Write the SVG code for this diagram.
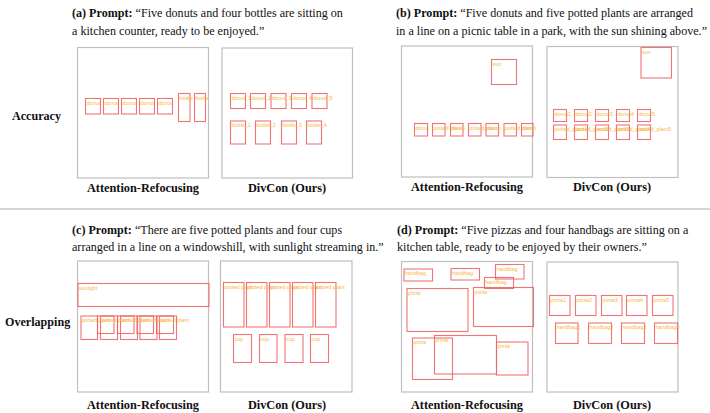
<svg xmlns="http://www.w3.org/2000/svg" width="710" height="413" viewBox="0 0 710 413">
<style>
.frame{fill:#fff;stroke:#bfbfbf;stroke-width:1.2}
.box{fill:none;stroke:#f06464;stroke-width:1.1;stroke-opacity:0.9}
.lbl{font-family:"Liberation Sans",Arial,sans-serif;font-size:5.4px;fill:#f5b845}
.t{font-family:"Liberation Serif","Times New Roman",serif;font-size:12.1px;fill:#111}
.b{font-weight:bold}
.cap{font-family:"Liberation Serif","Times New Roman",serif;font-size:12.3px;font-weight:bold;fill:#111;text-anchor:middle}
</style>
<rect width="710" height="413" fill="#fff"/>

<!-- prompts -->
<g id="prompts">
<text class="t" x="72" y="17"><tspan class="b">(a) Prompt:</tspan> “Five donuts and four bottles are sitting on</text>
<text class="t" x="72" y="34.5">a kitchen counter, ready to be enjoyed.”</text>
<text class="t" x="396" y="17"><tspan class="b">(b) Prompt:</tspan> “Five donuts and five potted plants are arranged</text>
<text class="t" x="396" y="34.5">in a line on a picnic table in a park, with the sun shining above.”</text>
<text class="t" x="72" y="234"><tspan class="b">(c) Prompt:</tspan> “There are five potted plants and four cups</text>
<text class="t" x="72" y="251">arranged in a line on a windowshill, with sunlight streaming in.”</text>
<text class="t" x="397" y="234"><tspan class="b">(d) Prompt:</tspan> “Five pizzas and four handbags are sitting on a</text>
<text class="t" x="397" y="251">kitchen table, ready to be enjoyed by their owners.”</text>
</g>

<g id="row-labels">
<text class="t b" x="12" y="120">Accuracy</text>
<text class="t b" x="5" y="326">Overlapping</text>
</g>

<line id="separator" x1="0" y1="209" x2="710" y2="209" stroke="#aaaaaa" stroke-width="1"/>

<g id="captions">
<text class="cap" x="143" y="192">Attention-Refocusing</text>
<text class="cap" x="287" y="192">DivCon (Ours)</text>
<text class="cap" x="467" y="191">Attention-Refocusing</text>
<text class="cap" x="612" y="191">DivCon (Ours)</text>
<text class="cap" x="143" y="409">Attention-Refocusing</text>
<text class="cap" x="287" y="409">DivCon (Ours)</text>
<text class="cap" x="467" y="409">Attention-Refocusing</text>
<text class="cap" x="612" y="409">DivCon (Ours)</text>
</g>

<!-- (a) Attention-Refocusing -->
<g id="panel-a-ar">
<rect class="frame" x="77.5" y="47.5" width="131" height="130.5"/>
<rect class="box" x="85.5" y="98.5" width="15" height="15.5"/><text class="lbl" x="86.5" y="104.5">donut</text>
<rect class="box" x="103.5" y="98.5" width="15" height="15.5"/><text class="lbl" x="104.5" y="104.5">donut</text>
<rect class="box" x="121.5" y="98.5" width="15" height="15.5"/><text class="lbl" x="122.5" y="104.5">donut</text>
<rect class="box" x="139.5" y="98.5" width="15" height="15.5"/><text class="lbl" x="140.5" y="104.5">donut</text>
<rect class="box" x="157.5" y="98.5" width="15" height="15.5"/><text class="lbl" x="158.5" y="104.5">donut</text>
<rect class="box" x="178.5" y="93.5" width="11.5" height="28"/><text class="lbl" x="179.5" y="99.5">bottle</text>
<rect class="box" x="194.5" y="93.5" width="11" height="28"/><text class="lbl" x="195.5" y="99.5">bottle</text>
</g>

<!-- (a) DivCon -->
<g id="panel-a-dc">
<rect class="frame" x="222" y="48" width="130.5" height="130"/>
<rect class="box" x="230.5" y="93.5" width="15" height="15"/><text class="lbl" x="231.5" y="99.5">donut_1</text>
<rect class="box" x="250.5" y="93.5" width="15" height="15"/><text class="lbl" x="251.5" y="99.5">donut_2</text>
<rect class="box" x="271" y="93.5" width="15" height="15"/><text class="lbl" x="272" y="99.5">donut_3</text>
<rect class="box" x="291.5" y="93.5" width="15" height="15"/><text class="lbl" x="292.5" y="99.5">donut_4</text>
<rect class="box" x="312" y="93.5" width="15" height="15"/><text class="lbl" x="313" y="99.5">donut_5</text>
<rect class="box" x="230.5" y="121" width="15" height="23"/><text class="lbl" x="231.5" y="127">bottle_1</text>
<rect class="box" x="255.5" y="121" width="15" height="23"/><text class="lbl" x="256.5" y="127">bottle_2</text>
<rect class="box" x="281.5" y="121" width="15" height="23"/><text class="lbl" x="282.5" y="127">bottle_3</text>
<rect class="box" x="306.5" y="121" width="15" height="23"/><text class="lbl" x="307.5" y="127">bottle_4</text>
</g>

<!-- (b) Attention-Refocusing -->
<g id="panel-b-ar">
<rect class="frame" x="401.5" y="46" width="131" height="131"/>
<rect class="box" x="491.5" y="59.5" width="25" height="25"/><text class="lbl" x="492.5" y="65.5">sun</text>
<rect class="box" x="414.5" y="123.5" width="13" height="12.5"/><text class="lbl" x="415.5" y="129.5">donut</text>
<rect class="box" x="432.5" y="123.5" width="12.5" height="12.5"/><text class="lbl" x="433.5" y="129.5">potted plant</text>
<rect class="box" x="450.5" y="123.5" width="12.5" height="12.5"/><text class="lbl" x="451.5" y="129.5">donut</text>
<rect class="box" x="468.5" y="123.5" width="12.5" height="12.5"/><text class="lbl" x="469.5" y="129.5">potted plant</text>
<rect class="box" x="486" y="123.5" width="12.5" height="12.5"/><text class="lbl" x="487" y="129.5">donut</text>
<rect class="box" x="504" y="123.5" width="12.5" height="12.5"/><text class="lbl" x="505" y="129.5">potted plant</text>
<rect class="box" x="521.5" y="123.5" width="11.5" height="12.5"/><text class="lbl" x="522.5" y="129.5">donut</text>
</g>

<!-- (b) DivCon -->
<g id="panel-b-dc">
<rect class="frame" x="547" y="46.5" width="131" height="131"/>
<rect class="box" x="641" y="47.5" width="30.5" height="30.5"/><text class="lbl" x="642" y="53.5">sun</text>
<rect class="box" x="553.5" y="109.5" width="13" height="12"/><text class="lbl" x="554.5" y="115.5">donut1</text>
<rect class="box" x="574.5" y="109.5" width="13" height="12"/><text class="lbl" x="575.5" y="115.5">donut2</text>
<rect class="box" x="595.5" y="109.5" width="13" height="12"/><text class="lbl" x="596.5" y="115.5">donut3</text>
<rect class="box" x="616.5" y="109.5" width="13" height="12"/><text class="lbl" x="617.5" y="115.5">donut4</text>
<rect class="box" x="637.5" y="109.5" width="13" height="12"/><text class="lbl" x="638.5" y="115.5">donut5</text>
<rect class="box" x="553.5" y="125" width="13" height="14.5"/><text class="lbl" x="554.5" y="131">potted_plant1</text>
<rect class="box" x="574.5" y="125" width="13" height="14.5"/><text class="lbl" x="575.5" y="131">potted_plant2</text>
<rect class="box" x="595.5" y="125" width="13" height="14.5"/><text class="lbl" x="596.5" y="131">potted_plant3</text>
<rect class="box" x="616.5" y="125" width="13" height="14.5"/><text class="lbl" x="617.5" y="131">potted_plant4</text>
<rect class="box" x="637.5" y="125" width="13" height="14.5"/><text class="lbl" x="638.5" y="131">potted_plant5</text>
</g>

<!-- (c) Attention-Refocusing -->
<g id="panel-c-ar">
<rect class="frame" x="77.5" y="261" width="131" height="131"/>
<rect class="box" x="78" y="283.5" width="131" height="23"/><text class="lbl" x="79" y="289.5">sunlight</text>
<rect class="box" x="81" y="316" width="16.5" height="23.5"/>
<rect class="box" x="100.5" y="316" width="17" height="23.5"/>
<rect class="box" x="120.5" y="316" width="17" height="23.5"/>
<rect class="box" x="140" y="316" width="17" height="23.5"/>
<rect class="box" x="159.5" y="316" width="17" height="23.5"/>
<rect class="box" x="97.5" y="316" width="16.5" height="17.5"/>
<rect class="box" x="117.5" y="316" width="16.5" height="17.5"/>
<rect class="box" x="137" y="316" width="16.5" height="17.5"/>
<rect class="box" x="156.5" y="316" width="17" height="17.5"/>
<text class="lbl" x="82" y="322">potted plant</text>
<text class="lbl" x="101.5" y="322">potted plant</text>
<text class="lbl" x="121.5" y="322">potted plant</text>
<text class="lbl" x="141" y="322">potted plant</text>
<text class="lbl" x="160.5" y="322">potted plant</text>
</g>

<!-- (c) DivCon -->
<g id="panel-c-dc">
<rect class="frame" x="220.5" y="261" width="131.5" height="131"/>
<rect class="box" x="223.5" y="282.5" width="20.5" height="44.5"/><text class="lbl" x="224.5" y="288.5">potted plant</text>
<rect class="box" x="246.5" y="282.5" width="20.5" height="44.5"/><text class="lbl" x="247.5" y="288.5">potted plant</text>
<rect class="box" x="269.5" y="282.5" width="20.5" height="44.5"/><text class="lbl" x="270.5" y="288.5">potted plant</text>
<rect class="box" x="292.5" y="282.5" width="20.5" height="44.5"/><text class="lbl" x="293.5" y="288.5">potted plant</text>
<rect class="box" x="315.5" y="282.5" width="20.5" height="44.5"/><text class="lbl" x="316.5" y="288.5">potted plant</text>
<rect class="box" x="233.5" y="334.5" width="18" height="28"/><text class="lbl" x="234.5" y="340.5">cup</text>
<rect class="box" x="259.5" y="334.5" width="17.5" height="28"/><text class="lbl" x="260.5" y="340.5">cup</text>
<rect class="box" x="285" y="334.5" width="18" height="28"/><text class="lbl" x="286" y="340.5">cup</text>
<rect class="box" x="310.5" y="334.5" width="18" height="28"/><text class="lbl" x="311.5" y="340.5">cup</text>
</g>

<!-- (d) Attention-Refocusing -->
<g id="panel-d-ar">
<rect class="frame" x="401.5" y="261.5" width="131" height="130.5"/>
<rect class="box" x="404" y="269" width="28.5" height="12"/><text class="lbl" x="405" y="275">handbag</text>
<rect class="box" x="451" y="268.5" width="28.5" height="11.5"/><text class="lbl" x="452" y="274.5">handbag</text>
<rect class="box" x="495.5" y="264.5" width="28.5" height="14.5"/><text class="lbl" x="496.5" y="270.5">handbag</text>
<rect class="box" x="484.5" y="277.5" width="29" height="11"/><text class="lbl" x="485.5" y="283.5">handbag</text>
<rect class="box" x="407" y="288.5" width="61" height="43"/><text class="lbl" x="408" y="294.5">pizza</text>
<rect class="box" x="473.5" y="287.5" width="60" height="39"/><text class="lbl" x="474.5" y="293.5">pizza</text>
<rect class="box" x="412.5" y="338" width="40" height="41.5"/><text class="lbl" x="413.5" y="344">pizza</text>
<rect class="box" x="434.5" y="335.5" width="62" height="38.5"/><text class="lbl" x="435.5" y="341.5">pizza</text>
<rect class="box" x="496.5" y="342" width="31.5" height="33"/><text class="lbl" x="497.5" y="348">pizza</text>
</g>

<!-- (d) DivCon -->
<g id="panel-d-dc">
<rect class="frame" x="547" y="262" width="131" height="130"/>
<rect class="box" x="549.5" y="295.5" width="20.5" height="20"/><text class="lbl" x="550.5" y="301.5">pizza1</text>
<rect class="box" x="575.5" y="295.5" width="20.5" height="20"/><text class="lbl" x="576.5" y="301.5">pizza2</text>
<rect class="box" x="601.5" y="295.5" width="20.5" height="20"/><text class="lbl" x="602.5" y="301.5">pizza3</text>
<rect class="box" x="626.5" y="295.5" width="20.5" height="20"/><text class="lbl" x="627.5" y="301.5">pizza4</text>
<rect class="box" x="652.5" y="295.5" width="20.5" height="20"/><text class="lbl" x="653.5" y="301.5">pizza5</text>
<rect class="box" x="555.5" y="323" width="22.5" height="20.5"/><text class="lbl" x="556.5" y="329">handbag1</text>
<rect class="box" x="588.5" y="323" width="23" height="20.5"/><text class="lbl" x="589.5" y="329">handbag2</text>
<rect class="box" x="621.5" y="323" width="23" height="20.5"/><text class="lbl" x="622.5" y="329">handbag3</text>
<rect class="box" x="654.5" y="323" width="23" height="20.5"/><text class="lbl" x="655.5" y="329">handbag4</text>
</g>
</svg>
